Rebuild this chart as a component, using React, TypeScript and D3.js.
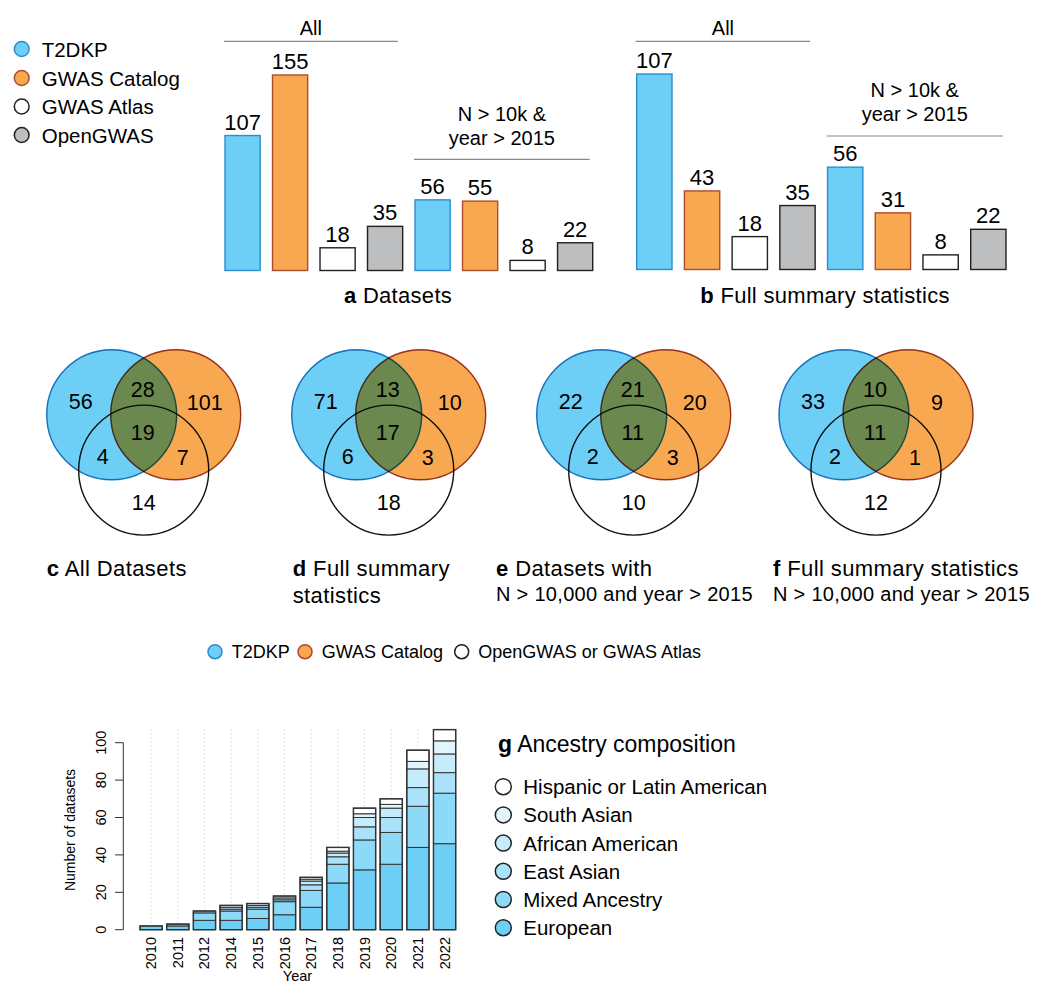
import React from "react";
import * as d3 from "d3";

const sources = ["T2DKP", "GWAS Catalog", "GWAS Atlas", "OpenGWAS"];
const datasetsAll = [107, 155, 18, 35];
const datasetsFiltered = [56, 55, 8, 22];
const fullStatsAll = [107, 43, 18, 35];
const fullStatsFiltered = [56, 31, 8, 22];

// venn regions: T2DKP only, T2DKP&Catalog, Catalog only, all three, T2DKP&other, Catalog&other, other only
const vennAllDatasets = [56, 28, 101, 19, 4, 7, 14];
const vennFullStats = [71, 13, 10, 17, 6, 3, 18];
const vennFilteredDatasets = [22, 21, 20, 11, 2, 3, 10];
const vennFilteredFullStats = [33, 10, 9, 11, 2, 1, 12];

const years = ["2010", "2011", "2012", "2014", "2015", "2016", "2017", "2018", "2019", "2020", "2021", "2022"];
const ancestries = ["European", "Mixed Ancestry", "East Asian", "African American", "South Asian", "Hispanic or Latin American"];
const european = [2, 2, 5, 5, 6, 8, 12, 25, 32, 35, 44, 46];
const mixedAncestry = [0, 1, 4, 5, 5, 7, 9, 10, 16, 17, 22, 27];
const eastAsian = [0, 0, 1, 1, 1, 1, 3, 4, 7, 8, 10, 11];
const africanAmerican = [0, 0, 0, 1, 1, 1, 2, 2, 5, 5, 10, 10];
const southAsian = [0, 0, 0, 1, 1, 1, 1, 1, 2, 2, 4, 7];
const hispanic = [0, 0, 0, 0, 0, 0, 1, 2, 3, 3, 6, 6];
const yTicks = [0, 20, 40, 60, 80, 100];

const FONT = "'Liberation Sans', Arial, Helvetica, sans-serif";
const srcFill = ["#6DCFF6", "#F9A852", "#FFFFFF", "#BCBEC0"];
const srcStroke = ["#2B8ED0", "#B04A2E", "#231F20", "#231F20"];
const ancestryFill = ["#6DCFF6", "#8CD9F8", "#A9E2F9", "#C6ECFB", "#E2F5FD", "#FFFFFF"];

const BarPanel = ({ all, filtered, x0, x1, base, allY, filtY, lineY, captionX, letter, caption }) => {
  const keys = [...sources.map(s => "all " + s), ...sources.map(s => "filt " + s)];
  const vals = [...all, ...filtered];
  const x = d3.scaleBand().domain(keys).range([x0, x1]).paddingInner(0.26);
  const y = d3.scaleLinear().domain([0, d3.max(vals)]).range([base, base - 195.5]);
  const bw = x.bandwidth();
  const allL = x(keys[0]) - 1, allR = x(keys[3]) + bw - 5;
  const fL = x(keys[4]) - 1, fR = x(keys[7]) + bw - 3;
  return (
    <g>
      <line x1={allL} x2={allR} y1={41.3} y2={41.3} stroke="#888" strokeWidth={1.2} />
      <text x={(allL + allR) / 2} y={allY} textAnchor="middle" fontSize={20}>All</text>
      <line x1={fL} x2={fR} y1={lineY} y2={lineY} stroke="#888" strokeWidth={1.2} />
      <text x={(fL + fR) / 2} y={filtY} textAnchor="middle" fontSize={20}>N &gt; 10k &amp;</text>
      <text x={(fL + fR) / 2} y={filtY + 24} textAnchor="middle" fontSize={20}>year &gt; 2015</text>
      {keys.map((k, i) => (
        <g key={k}>
          <rect x={x(k)} y={y(vals[i])} width={bw} height={base - y(vals[i])}
            fill={srcFill[i % 4]} stroke={srcStroke[i % 4]} strokeWidth={1.4} />
          <text x={x(k) + bw / 2} y={y(vals[i]) - 6} textAnchor="middle" fontSize={22}>{vals[i]}</text>
        </g>
      ))}
      <text x={captionX} y={303} textAnchor="middle" fontSize={22} letterSpacing={0.3}>
        <tspan fontWeight="bold">{letter}</tspan> {caption}
      </text>
    </g>
  );
};

const labelOffsets = [[-31, -13], [31, -25], [93, -12], [31, 18], [-9, 42], [71, 43], [32, 88]];

const Venn = ({ cx, vals }) => {
  const cy = 414.7, r = 65;
  const centers = [[cx, cy], [cx + 64, cy], [cx + 32, cy + 55.4]];
  const strokes = ["#2079BE", "#9A3B26", "#111"];
  return (
    <g>
      <g style={{ isolation: "isolate" }}>
        <circle cx={centers[0][0]} cy={centers[0][1]} r={r} fill={srcFill[0]} />
        <circle cx={centers[1][0]} cy={centers[1][1]} r={r} fill={srcFill[1]} style={{ mixBlendMode: "multiply" }} />
        {centers.map((c, i) => (
          <circle key={i} cx={c[0]} cy={c[1]} r={r} fill="none" stroke={strokes[i]} strokeWidth={1.4}
            style={{ mixBlendMode: "multiply" }} />
        ))}
      </g>
      {vals.map((v, i) => (
        <text key={i} x={cx + labelOffsets[i][0]} y={cy + labelOffsets[i][1]} textAnchor="middle"
          dominantBaseline="central" fontSize={21.5}>{v}</text>
      ))}
    </g>
  );
};

const Stacked = () => {
  const rows = years.map((yr, i) => ({
    year: yr,
    "European": european[i],
    "Mixed Ancestry": mixedAncestry[i],
    "East Asian": eastAsian[i],
    "African American": africanAmerican[i],
    "South Asian": southAsian[i],
    "Hispanic or Latin American": hispanic[i],
  }));
  const series = d3.stack().keys(ancestries)(rows);
  const x = d3.scaleBand().domain(years).range([140, 455.7]).paddingInner(1 / 6);
  const y = d3.scaleLinear().domain([0, 100]).range([929.7, 742.7]);
  const bw = x.bandwidth();
  const totals = rows.map((r, i) => european[i] + mixedAncestry[i] + eastAsian[i] + africanAmerican[i] + southAsian[i] + hispanic[i]);
  return (
    <g>
      {years.map(yr => (
        <line key={yr} x1={x(yr) + bw / 2} x2={x(yr) + bw / 2} y1={y(107)} y2={y(0)}
          stroke="#c4c4c4" strokeDasharray="1 3" />
      ))}
      {series.map((s, si) => s.map((d, i) => d[1] > d[0] ? (
        <rect key={si + "-" + i} x={x(years[i])} y={y(d[1])} width={bw} height={y(d[0]) - y(d[1])}
          fill={ancestryFill[si]} stroke="#333" strokeWidth={1} />
      ) : null))}
      {years.map((yr, i) => (
        <rect key={"o" + yr} x={x(yr)} y={y(totals[i])} width={bw} height={y(0) - y(totals[i])}
          fill="none" stroke="#333" strokeWidth={1.4} />
      ))}
      <line x1={123.3} x2={123.3} y1={y(0)} y2={y(100)} stroke="#333" />
      {yTicks.map(t => (
        <g key={t}>
          <line x1={115} x2={123.3} y1={y(t)} y2={y(t)} stroke="#333" />
          <text transform={`translate(100.5,${y(t)}) rotate(-90)`} textAnchor="middle"
            dominantBaseline="central" fontSize={14.5}>{t}</text>
        </g>
      ))}
      {years.map(yr => (
        <text key={"l" + yr} transform={`translate(${x(yr) + bw / 2},937) rotate(-90)`} textAnchor="end"
          dominantBaseline="central" fontSize={14.5}>{yr}</text>
      ))}
      <text transform="translate(70,830) rotate(-90)" textAnchor="middle" dominantBaseline="central" fontSize={14}>
        Number of datasets
      </text>
      <text x={297.5} y={981} textAnchor="middle" fontSize={14.5}>Year</text>
    </g>
  );
};

const App = () => {
  const topLegendY = [49, 78, 106.5, 135];
  const midLegend = [
    { cx: 215, tx: 231.7, label: "T2DKP", i: 0 },
    { cx: 305, tx: 321.7, label: "GWAS Catalog", i: 1 },
    { cx: 461.7, tx: 478.3, label: "OpenGWAS or GWAS Atlas", i: 2 },
  ];
  const ancestryLegend = [...ancestries].reverse();
  return (
    <div style={{ position: "absolute", left: 0, top: 0 }}>
      <svg width={1050} height={990} style={{ display: "block", fontFamily: FONT }}>
        <rect width={1050} height={990} fill="#fff" />
        {sources.map((s, i) => (
          <g key={s}>
            <circle cx={21.7} cy={topLegendY[i]} r={7.4} fill={srcFill[i]} stroke={srcStroke[i]} strokeWidth={1.5} />
            <text x={41.7} y={topLegendY[i]} dominantBaseline="central" fontSize={20.5}>{s}</text>
          </g>
        ))}
        <BarPanel all={datasetsAll} filtered={datasetsFiltered} x0={225} x1={592.7} base={270.5}
          allY={35} filtY={121} lineY={159.3} captionX={398} letter="a" caption="Datasets" />
        <BarPanel all={fullStatsAll} filtered={fullStatsFiltered} x0={636.7} x1={1006} base={269.5}
          allY={35} filtY={97.3} lineY={136} captionX={825} letter="b" caption="Full summary statistics" />

        <Venn cx={111.7} vals={vennAllDatasets} />
        <Venn cx={356.7} vals={vennFullStats} />
        <Venn cx={601.7} vals={vennFilteredDatasets} />
        <Venn cx={844} vals={vennFilteredFullStats} />

        <g fontSize={22} letterSpacing={0.4}>
          <text x={46.7} y={575.7}><tspan fontWeight="bold">c</tspan> All Datasets</text>
          <text x={292.7} y={575.7}><tspan fontWeight="bold">d</tspan> Full summary</text>
          <text x={292.7} y={603}>statistics</text>
          <text x={496} y={575.7}><tspan fontWeight="bold">e</tspan> Datasets with</text>
          <text x={773} y={575.7}><tspan fontWeight="bold">f</tspan> Full summary statistics</text>
        </g>
        <g fontSize={20} letterSpacing={0.3}>
          <text x={496} y={601}>N &gt; 10,000 and year &gt; 2015</text>
          <text x={773} y={601}>N &gt; 10,000 and year &gt; 2015</text>
        </g>

        {midLegend.map(m => (
          <g key={m.label}>
            <circle cx={m.cx} cy={651.7} r={7} fill={srcFill[m.i]} stroke={srcStroke[m.i]} strokeWidth={1.5} />
            <text x={m.tx} y={658.3} fontSize={18}>{m.label}</text>
          </g>
        ))}

        <Stacked />

        <text x={498} y={752} fontSize={23}><tspan fontWeight="bold">g</tspan> Ancestry composition</text>
        {ancestryLegend.map((a, i) => (
          <g key={a}>
            <circle cx={503.3} cy={786.7 + i * 28.2} r={8} fill={ancestryFill[ancestries.indexOf(a)]}
              stroke="#222" strokeWidth={1.5} />
            <text x={523.3} y={786.7 + i * 28.2} dominantBaseline="central" fontSize={20.5}>{a}</text>
          </g>
        ))}
      </svg>
    </div>
  );
};

export default App;
